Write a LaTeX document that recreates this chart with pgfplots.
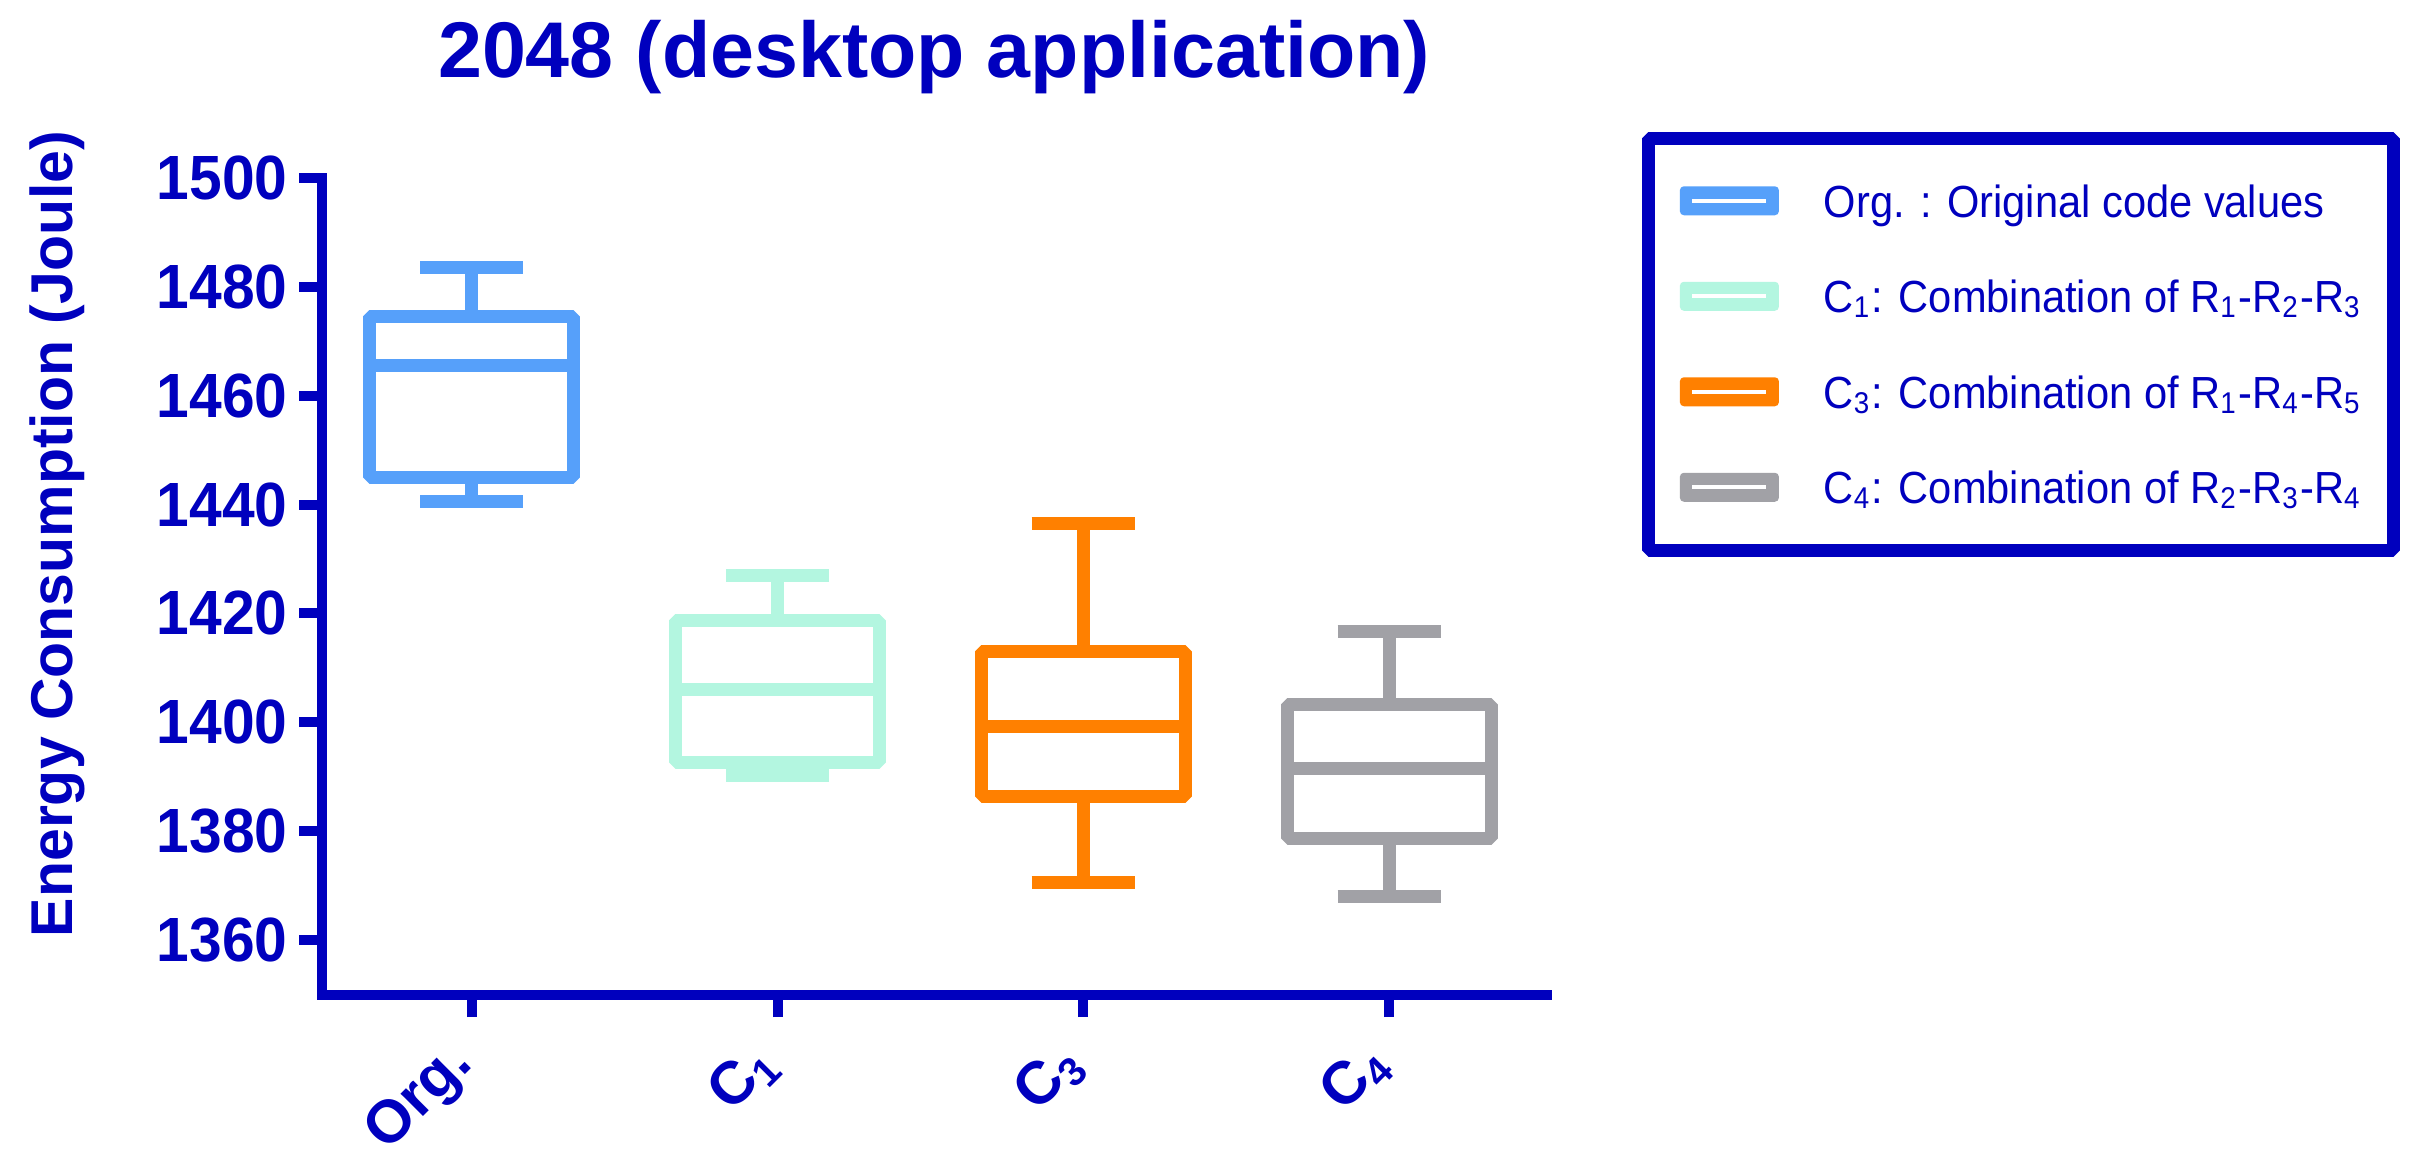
\documentclass[border=0pt]{standalone}
\usepackage{fontspec}
\setmainfont{Liberation Sans}
\newfontfamily\cfont[FakeStretch=0.94]{Liberation Sans}
\newfontfamily\lfont[FakeStretch=0.925]{Liberation Sans}
\usepackage{pgfplots}
\pgfplotsset{compat=1.18}
\usepgfplotslibrary{statistics}

\definecolor{axblue}{RGB}{0,0,190}
\definecolor{orgc}{RGB}{86,160,250}
\definecolor{c1c}{RGB}{179,246,224}
\definecolor{c3c}{RGB}{255,128,0}
\definecolor{c4c}{RGB}{161,161,166}

\pgfplotsset{legbox/.style={legend image code/.code={
  \path[fill=#1,draw=none,rounded corners=0.8pt] (0pt,-2.9pt) rectangle (19.8pt,2.9pt);
  \draw[white,line width=0.8pt] (2.5pt,0pt) -- (17.3pt,0pt);}}}

\begin{document}
\begin{tikzpicture}
\begin{axis}[
  name=ax,
  scale only axis, width=245pt, height=163.3pt,
  xmin=-0.4905, xmax=3.515, ymin=1350, ymax=1500,
  axis lines=left,
  axis line style={-, line width=2pt, axblue, line cap=rect},
  xtick={0,1,2,3},
  xticklabels={Org., C\textsubscript{1}, C\textsubscript{3}, C\textsubscript{4}},
  ytick={1360,1380,...,1500},
  tick align=outside, major tick length=4.5pt,
  tick style={line width=2pt, axblue},
  ticklabel style={font=\cfont\bfseries\fontsize{12.5}{15}\selectfont, text=axblue},
  yticklabel style={xshift=1.2pt},
  xticklabel style={xshift=3pt, yshift=-7.2pt, rotate=45, anchor=base east,
    font=\bfseries\fontsize{12}{15}\selectfont},
  /pgf/number format/assume math mode=true,
  /pgf/number format/1000 sep={},
  title={2048 (desktop application)},
  title style={font=\bfseries\fontsize{15.8}{19}\selectfont, text=axblue,
    at={(axis description cs:0.5,1.0866)}, anchor=base},
  ylabel={Energy Consumption (Joule)},
  ylabel style={font=\bfseries\fontsize{11.8}{14}\selectfont, text=axblue,
    at={(axis description cs:-0.2038,0.564)}, anchor=base},
  legend style={at={(axis description cs:1.0834,1.049)}, anchor=north west,
    draw=axblue, line width=2.6pt, line join=bevel, outer sep=0pt,
    inner xsep=6.2pt, inner ysep=9.3pt, row sep=12.6pt, column sep=9pt,
    font=\lfont\fontsize{9}{11}\selectfont, text=axblue,
    nodes={inner sep=0pt, outer sep=0pt, text height=6.5pt, text depth=0pt}},
  legend cell align=left,
  boxplot/draw direction=y,
]
\addplot[forget plot, draw=orgc, line width=2.6pt, line join=bevel,
  boxplot prepared={draw position=0, lower whisker=1440.6, lower quartile=1444.9,
    median=1465.6, upper quartile=1474.6, upper whisker=1483.5,
    box extend=0.667, whisker extend=0.338}] coordinates {};
\addplot[forget plot, draw=c1c, line width=2.6pt, line join=bevel,
  boxplot prepared={draw position=1, lower whisker=1390.3, lower quartile=1392.6,
    median=1406.0, upper quartile=1418.7, upper whisker=1427.0,
    box extend=0.667, whisker extend=0.338}] coordinates {};
\addplot[forget plot, draw=c3c, line width=2.6pt, line join=bevel,
  boxplot prepared={draw position=2, lower whisker=1370.6, lower quartile=1386.3,
    median=1399.3, upper quartile=1413.0, upper whisker=1436.6,
    box extend=0.667, whisker extend=0.338}] coordinates {};
\addplot[forget plot, draw=c4c, line width=2.6pt, line join=bevel,
  boxplot prepared={draw position=3, lower whisker=1368.0, lower quartile=1378.6,
    median=1391.5, upper quartile=1403.3, upper whisker=1416.6,
    box extend=0.667, whisker extend=0.338}] coordinates {};

\addlegendimage{legbox=orgc}
\addlegendentry{Org. : Original code values}
\addlegendimage{legbox=c1c}
\addlegendentry{C\textsubscript{1}: Combination of R\textsubscript{1}-R\textsubscript{2}-R\textsubscript{3}}
\addlegendimage{legbox=c3c}
\addlegendentry{C\textsubscript{3}: Combination of R\textsubscript{1}-R\textsubscript{4}-R\textsubscript{5}}
\addlegendimage{legbox=c4c}
\addlegendentry{C\textsubscript{4}: Combination of R\textsubscript{2}-R\textsubscript{3}-R\textsubscript{4}}
\end{axis}
\pgfresetboundingbox
\path ([shift={(-64.34pt,-34.7pt)}]ax.south west) rectangle ++(485pt,233.6pt);
\end{tikzpicture}
\end{document}
